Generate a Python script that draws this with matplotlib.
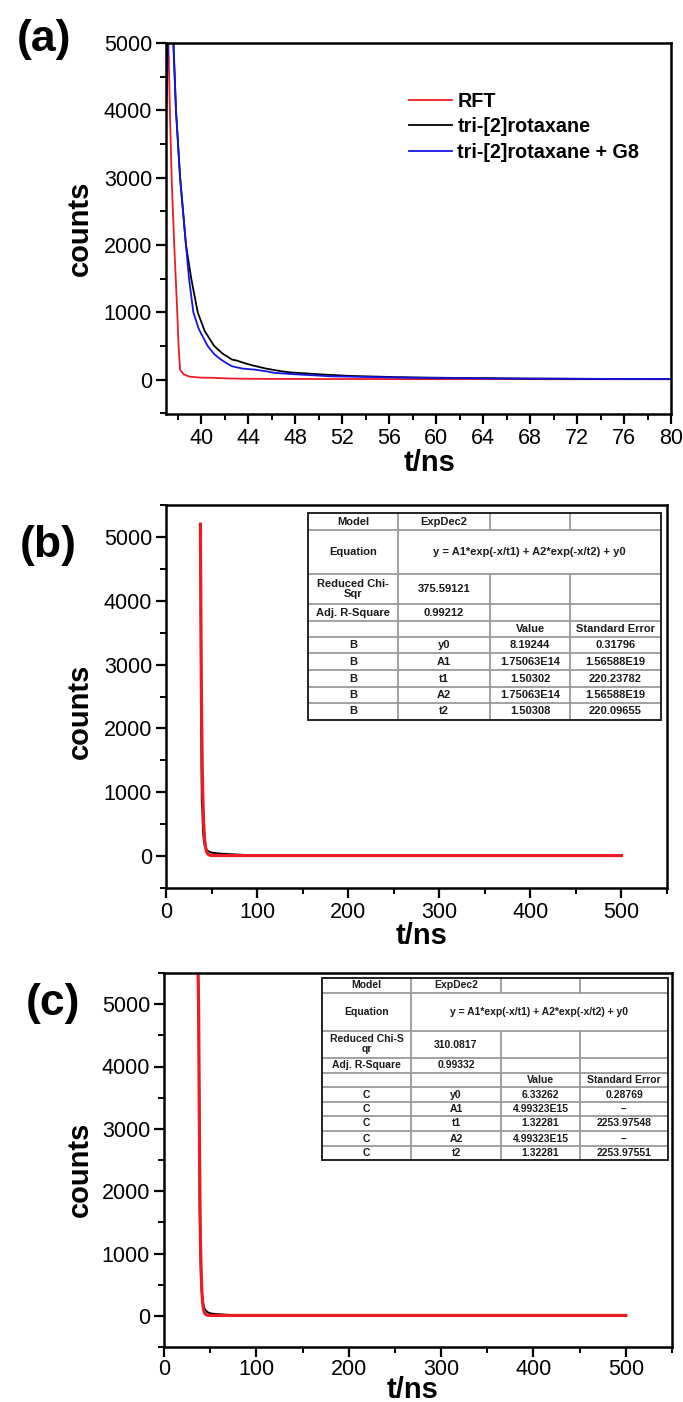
import matplotlib
matplotlib.use("Agg")
import matplotlib.pyplot as plt
from matplotlib.lines import Line2D
from matplotlib.patches import Rectangle
from matplotlib.ticker import MultipleLocator

plt.rcParams['font.family'] = ['Liberation Sans', 'DejaVu Sans']

# ---------------- data: panel (a) ----------------
a_rft_t = [37.0, 37.1, 37.2, 37.33, 37.48, 37.7, 37.96, 38.07, 38.2, 38.5, 39.0, 39.26,
           40.0, 41.0, 42.0, 43.0, 45.0, 50.0, 55.0, 60.0, 65.0, 70.0, 75.0, 80.0]
a_rft_counts = [4450, 5100, 5050, 4000, 3000, 2000, 1000, 500, 150, 80, 45, 40,
                30, 28, 20, 15, 12, 10, 9, 8, 8, 7, 7, 6]

a_tri_t = [37.0, 37.15, 37.35, 37.6, 37.85, 38.2, 38.7, 39.15, 39.7, 40.3, 41.1, 41.8,
           42.6, 43.0, 43.4, 43.8, 44.3, 44.9, 45.5, 46.0, 46.5, 47.0, 47.8, 49.0, 50.5,
           51.5, 52.6, 54.5, 56.5, 59.0, 62.0, 65.0, 68.0, 71.0, 74.0, 77.0, 80.0]
a_tri_counts = [4300, 5150, 5300, 5100, 4000, 3000, 2000, 1500, 1000, 720, 500, 390,
                300, 285, 262, 240, 215, 190, 165, 150, 135, 120, 105, 92, 75,
                66, 56, 47, 38, 31, 25, 21, 16, 14, 11, 9, 8]

a_g8_t = [37.0, 37.2, 37.4, 37.6, 37.85, 38.2, 38.7, 38.96, 39.33, 39.8, 40.55, 41.1,
          41.67, 42.2, 42.6, 43.5, 44.5, 45.5, 46.3, 48.0, 51.0, 54.0, 58.0, 62.0, 66.0,
          70.0, 75.0, 80.0]
a_g8_counts = [3900, 5050, 5350, 5200, 4000, 3000, 2000, 1500, 1000, 750, 500, 380,
               300, 240, 200, 165, 150, 125, 100, 80, 50, 40, 28, 22, 16,
               14, 11, 9]

a_labels = ["RFT", "tri-[2]rotaxane", "tri-[2]rotaxane + G8"]
a_colors = ["#ec1c24", "#000000", "#1414e6"]
a_xticks = [40, 44, 48, 52, 56, 60, 64, 68, 72, 76, 80]
a_yticks = [0, 1000, 2000, 3000, 4000, 5000]

# ---------------- data: panel (b) ----------------
b_data_t = [37.6, 38.0, 38.5, 39.3, 40.0, 40.6, 41.5, 42.5, 44.0, 46.0,
            50.0, 55.0, 60.0, 70.0, 80.0, 90.0, 100.0, 150.0, 200.0, 300.0, 400.0, 500.0]
b_data_counts = [5100, 5200, 2300, 850, 700, 400, 250, 170, 110, 80,
                 55, 45, 38, 30, 22, 15, 10, 9, 8, 8, 8, 8]
b_fit_t = [37.8, 38.3, 38.8, 39.3, 39.8, 40.3, 41.3, 42.3, 43.3, 44.3, 45.3, 46.5,
           48.0, 50.0, 60.0, 100.0, 200.0, 300.0, 400.0, 500.0]
b_fit_counts = [5200, 3730, 2680, 1930, 1390, 1000, 520, 275, 145, 80, 45, 25,
                15, 10, 8, 8, 8, 8, 8, 8]

# ---------------- data: panel (c) ----------------
c_data_t = [37.0, 37.5, 38.0, 38.6, 39.3, 40.0, 41.0, 42.0, 43.5, 45.0, 47.0,
            50.0, 55.0, 60.0, 65.0, 70.0, 75.0, 80.0, 100.0, 200.0, 300.0, 400.0, 500.0]
c_data_counts = [5400, 4800, 3900, 1700, 1200, 600, 380, 230, 130, 90, 60,
                 40, 30, 25, 20, 15, 12, 9, 7, 6, 6, 6, 6]
c_fit_t = [37.0, 37.5, 38.0, 38.5, 39.0, 39.5, 40.0, 41.0, 42.0, 43.0, 44.0, 45.0,
           46.0, 48.0, 50.0, 60.0, 100.0, 200.0, 300.0, 400.0, 500.0]
c_fit_counts = [5450, 4900, 3760, 2570, 1760, 1200, 825, 390, 185, 90, 45, 25,
                14, 9, 7, 6, 6, 6, 6, 6, 6]

bc_xticks = [0, 100, 200, 300, 400, 500]
bc_yticks = [0, 1000, 2000, 3000, 4000, 5000]

# ---------------- data: fit tables ----------------
equation_text = "y = A1*exp(-x/t1) + A2*exp(-x/t2) + y0"
param_names = ["y0", "A1", "t1", "A2", "t2"]
table_header = ["", "", "Value", "Standard Error"]

b_dataset = "B"
b_chi_label = "Reduced Chi-\nSqr"
b_chi = "375.59121"
b_adj = "0.99212"
b_values = ["8.19244", "1.75063E14", "1.50302", "1.75063E14", "1.50308"]
b_errors = ["0.31796", "1.56588E19", "220.23782", "1.56588E19", "220.09655"]

c_dataset = "C"
c_chi_label = "Reduced Chi-S\nqr"
c_chi = "310.0817"
c_adj = "0.99332"
c_values = ["6.33262", "4.99323E15", "1.32281", "4.99323E15", "1.32281"]
c_errors = ["0.28769", "--", "2253.97548", "--", "2253.97551"]

# ---------------- layout ----------------
W, H = 683, 1402
fig = plt.figure(figsize=(W / 100, H / 100), dpi=100)


def fx(px):
    return px / W


def fy(py):
    return 1 - py / H


def add_axes_px(left, top, right, bottom):
    return fig.add_axes([fx(left), fy(bottom), (right - left) / W, (bottom - top) / H])


TICK_FS = 15.5


def style_axes(ax, xmajor, xminor, ymajor, yminor, xpad=4):
    for s in ax.spines.values():
        s.set_linewidth(1.8)
    ax.xaxis.set_major_locator(MultipleLocator(xmajor))
    ax.xaxis.set_minor_locator(MultipleLocator(xminor))
    ax.yaxis.set_major_locator(MultipleLocator(ymajor))
    ax.yaxis.set_minor_locator(MultipleLocator(yminor))
    ax.tick_params(which='major', direction='out', length=7, width=1.6,
                   labelsize=TICK_FS, pad=3)
    ax.tick_params(axis='x', which='major', pad=xpad)
    ax.tick_params(which='minor', direction='out', length=4, width=1.4)
    ax.tick_params(top=False, right=False, which='both')


# Panel (a)
ax_a = add_axes_px(166, 43, 671, 414)
ax_a.plot(a_rft_t, a_rft_counts, color=a_colors[0], lw=1.3, label=a_labels[0])
ax_a.plot(a_tri_t, a_tri_counts, color=a_colors[1], lw=1.3, label=a_labels[1])
ax_a.plot(a_g8_t, a_g8_counts, color=a_colors[2], lw=1.3, label=a_labels[2])
ax_a.set_xlim(37, 80)
ax_a.set_ylim(-510, 5000)
style_axes(ax_a, 4, 2, 1000, 500, xpad=3)
ax_a.set_xticks(a_xticks)
ax_a.set_yticks(a_yticks)
ax_a.legend(loc='upper left', bbox_to_anchor=((409 - 166) / 505, (414 - 92) / 371),
            frameon=False, borderaxespad=0, borderpad=0, handlelength=2.2,
            handletextpad=0.25, labelspacing=0.32,
            prop={'size': 14.2, 'weight': 'bold'})

# Panel (b)
ax_b = add_axes_px(166, 505, 667, 888)
ax_b.plot(b_data_t, b_data_counts, color='black', lw=1.4)
ax_b.plot(b_fit_t, b_fit_counts, color='#ec1c24', lw=2.3)
ax_b.set_xlim(0, 550)
ax_b.set_ylim(-500, 5500)
style_axes(ax_b, 100, 50, 1000, 500, xpad=3)
ax_b.set_xticks(bc_xticks)
ax_b.set_yticks(bc_yticks)

# Panel (c)
ax_c = add_axes_px(164, 973, 672, 1347)
ax_c.plot(c_data_t, c_data_counts, color='black', lw=1.4)
ax_c.plot(c_fit_t, c_fit_counts, color='#ec1c24', lw=2.3)
ax_c.set_xlim(0, 550)
ax_c.set_ylim(-500, 5500)
style_axes(ax_c, 100, 50, 1000, 500, xpad=1.5)
ax_c.set_xticks(bc_xticks)
ax_c.set_yticks(bc_yticks)

# axis titles and panel letters
LAB_FS = 21
for (cx, cy) in [(80, 228), (80, 711), (80, 1169)]:
    fig.text(fx(cx), fy(cy), "counts", rotation=90, ha='center', va='center',
             fontsize=LAB_FS, fontweight='bold')
for (cx, cy) in [(430, 463), (422, 936), (413, 1390)]:
    fig.text(fx(cx), fy(cy), "t/ns", ha='center', va='center',
             fontsize=LAB_FS, fontweight='bold')
for txt, (cx, cy) in zip(["(a)", "(b)", "(c)"], [(44, 39), (48, 545), (53, 1004)]):
    fig.text(fx(cx), fy(cy), txt, ha='center', va='center',
             fontsize=32, fontweight='bold')


# ---------------- tables ----------------
def draw_table(cols, rows, dataset, chi_label, chi, adj, values, errors, fs):
    x0, x1 = cols[0], cols[-1]
    y0, y1 = rows[0], rows[-1]
    fig.patches.append(Rectangle((fx(x0), fy(y1)), (x1 - x0) / W, (y1 - y0) / H,
                                 transform=fig.transFigure, facecolor='white',
                                 edgecolor='none', zorder=5))
    grey = '#9a9a9a'
    for r in rows[1:-1]:
        fig.lines.append(Line2D([fx(x0), fx(x1)], [fy(r), fy(r)], transform=fig.transFigure,
                                color=grey, lw=1.3, zorder=6))
    for i, c in enumerate(cols[1:-1]):
        if i == 0:
            segs = [(rows[0], rows[-1])]
        else:
            segs = [(rows[0], rows[1]), (rows[2], rows[-1])]
        for (ya, yb) in segs:
            fig.lines.append(Line2D([fx(c), fx(c)], [fy(ya), fy(yb)], transform=fig.transFigure,
                                    color=grey, lw=1.3, zorder=6))
    fig.patches.append(Rectangle((fx(x0), fy(y1)), (x1 - x0) / W, (y1 - y0) / H,
                                 transform=fig.transFigure, facecolor='none',
                                 edgecolor='#222222', lw=1.4, zorder=7))

    def cell(ci, ri, text, span=1):
        cx = (cols[ci] + cols[ci + span]) / 2
        cy = (rows[ri] + rows[ri + 1]) / 2
        fig.text(fx(cx), fy(cy), text, ha='center', va='center', fontsize=fs,
                 fontweight='bold', color='#1a1a1a', zorder=8, linespacing=1.0)

    cell(0, 0, "Model")
    cell(1, 0, "ExpDec2")
    cell(0, 1, "Equation")
    cell(1, 1, equation_text, span=3)
    cell(0, 2, chi_label)
    cell(1, 2, chi)
    cell(0, 3, "Adj. R-Square")
    cell(1, 3, adj)
    for ci, t in enumerate(table_header):
        if t:
            cell(ci, 4, t)
    for k in range(len(param_names)):
        cell(0, 5 + k, dataset)
        cell(1, 5 + k, param_names[k])
        cell(2, 5 + k, values[k])
        cell(3, 5 + k, errors[k])


draw_table([308, 398, 490, 570, 661],
           [513, 530, 574, 604, 621, 637, 653, 670, 687, 703, 720],
           b_dataset, b_chi_label, b_chi, b_adj, b_values, b_errors, 8)
draw_table([322, 411, 501, 580, 668],
           [978, 993, 1031, 1058, 1073, 1087, 1102, 1116, 1131, 1146, 1160],
           c_dataset, c_chi_label, c_chi, c_adj, c_values, c_errors, 7.5)

fig.savefig("out.png", dpi=100)
